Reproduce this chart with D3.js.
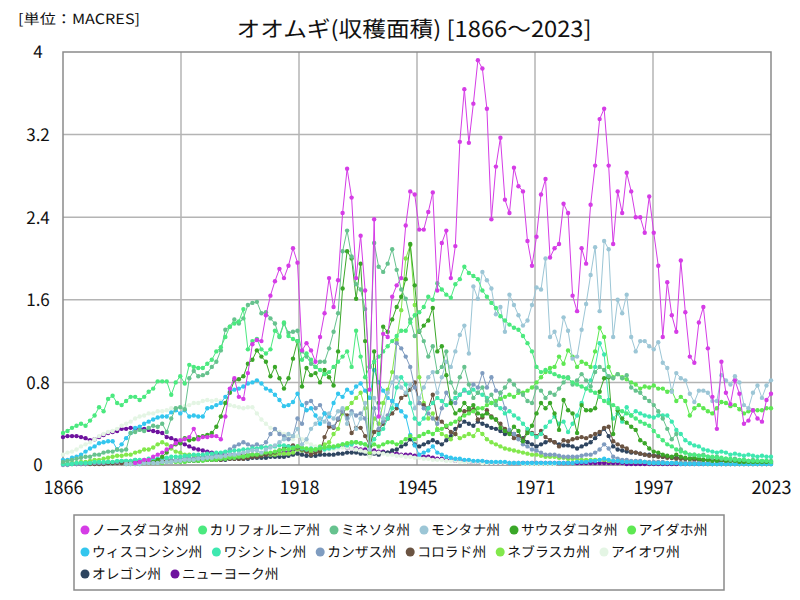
<!DOCTYPE html>
<html lang="ja"><head><meta charset="utf-8">
<script src="https://cdn.jsdelivr.net/npm/d3@7/dist/d3.min.js"></script>
<style>body{margin:0;background:#fff} text{font-family:"Noto Sans CJK JP","Noto Sans",sans-serif;fill:#111;text-rendering:geometricPrecision} .gs{opacity:0.999}</style>
</head><body><svg id="c" width="800" height="600"></svg>
<script>
const startYear = 1866, endYear = 2023;
const xTickLabels = ["1866","1892","1918","1945","1971","1997","2023"];
const yTickValues = [0, 0.8, 1.6, 2.4, 3.2, 4];
const yTickLabels = ["0","0.8","1.6","2.4","3.2","4"];
const stateNames = ["ノースダコタ州","カリフォルニア州","ミネソタ州","モンタナ州","サウスダコタ州","アイダホ州","ウィスコンシン州","ワシントン州","カンザス州","コロラド州","ネブラスカ州","アイオワ州","オレゴン州","ニューヨーク州"];
const stateColors = ["#d53ce6","#4be97f","#66c28e","#9cc6d6","#3aa728","#5ee852","#33c6ee","#3ee8b0","#7f9cc0","#6b5442","#82e84c","#e4f5e4","#2e4560","#6e129e"];
const startYears = [1882,1866,1866,1880,1885,1880,1866,1866,1866,1870,1866,1866,1866,1866];

const northDakota = [0.02,0.03,0.05,0.05,0.08,0.10,0.12,0.15,0.18,0.21,
0.24,0.25,0.27,0.35,0.25,0.27,0.27,0.28,0.28,0.25,
0.47,0.74,0.84,0.66,0.64,0.89,1.17,1.21,1.20,1.45,
1.64,1.78,1.90,1.81,1.93,2.10,1.96,1.11,1.18,1.11,
1.00,1.24,1.47,1.81,1.53,1.79,2.44,2.87,2.59,1.81,
2.22,1.69,0.73,2.38,0.47,1.27,1.24,1.63,1.74,1.81,
2.32,2.65,2.62,2.28,2.28,2.45,2.64,1.69,2.15,2.27,
1.81,2.12,3.13,3.64,3.12,3.50,3.92,3.84,3.45,2.38,
2.89,3.17,2.57,2.44,2.88,2.70,2.65,2.17,1.93,2.21,
2.62,2.77,2.01,2.10,2.14,2.53,2.44,1.64,1.49,2.10,
1.95,2.52,2.90,3.35,3.45,2.90,2.14,2.65,2.44,2.83,
2.65,2.40,2.40,2.25,2.60,2.25,1.93,1.24,1.77,1.45,
1.29,1.98,1.48,1.05,0.99,1.38,1.53,1.13,0.66,0.35,
1.00,0.70,0.59,0.82,0.69,0.40,0.43,0.53,0.45,0.42,0.63,0.69];

const california = [0.31,0.33,0.36,0.38,0.40,0.38,0.43,0.48,0.56,0.52,
0.64,0.67,0.60,0.58,0.62,0.66,0.66,0.63,0.66,0.71,
0.74,0.81,0.81,0.81,0.68,0.80,0.86,0.79,0.97,0.95,
0.94,0.94,0.98,1.02,1.10,1.14,1.24,1.34,1.37,1.39,
1.51,1.12,1.20,1.22,1.12,1.08,1.12,1.30,1.25,1.38,
1.25,1.22,1.20,1.02,1.08,1.02,0.95,0.92,0.88,0.90,
0.95,1.00,1.05,1.10,0.95,1.30,1.05,0.85,0.95,1.00,
1.05,1.10,1.15,1.20,1.25,1.30,1.30,1.38,1.45,1.48,
1.53,1.63,1.60,1.76,1.70,1.65,1.62,1.75,1.80,1.92,
1.86,1.83,1.80,1.69,1.63,1.57,1.52,1.44,1.40,1.36,
1.33,1.31,1.25,1.18,1.10,0.95,0.90,0.92,0.90,0.88,
0.86,0.85,0.84,0.80,0.78,0.76,0.74,0.72,0.70,0.66,
0.62,0.60,0.58,0.55,0.52,0.50,0.48,0.45,0.42,0.40,
0.38,0.33,0.28,0.24,0.20,0.18,0.15,0.13,0.12,0.10,
0.10,0.09,0.09,0.08,0.08,0.07,0.07,0.06,0.06,0.05,
0.05,0.05,0.04,0.04,0.04,0.04,0.04,0.03];

const minnesota = [0.03,0.04,0.05,0.06,0.07,0.08,0.08,0.10,0.10,0.12,
0.13,0.13,0.15,0.14,0.15,0.31,0.32,0.34,0.33,0.36,
0.38,0.37,0.40,0.32,0.45,0.55,0.56,0.54,0.84,0.91,
0.86,0.87,0.89,0.95,1.00,1.11,1.31,1.34,1.41,1.37,
1.42,1.55,1.57,1.58,1.47,1.48,1.42,1.37,1.24,1.37,
1.28,1.29,1.30,1.10,1.05,0.98,0.95,1.00,1.00,1.13,
1.29,1.47,2.07,2.27,2.02,1.75,1.70,1.51,0.95,2.15,
1.92,1.87,1.95,2.09,1.89,1.70,1.61,1.41,1.25,1.30,
1.20,1.05,1.15,0.90,0.95,1.10,0.80,0.70,0.85,0.95,
0.78,0.65,0.70,0.75,0.62,0.68,0.58,0.70,0.75,0.82,
0.78,0.72,0.68,0.62,0.60,0.75,0.72,0.65,0.70,0.68,
0.74,0.80,0.85,0.78,0.82,0.88,0.82,0.76,0.90,0.95,
0.92,0.86,0.84,0.88,0.84,0.87,0.75,0.72,0.70,0.65,
0.62,0.58,0.52,0.45,0.35,0.25,0.30,0.15,0.12,0.10,
0.10,0.09,0.10,0.08,0.07,0.08,0.06,0.06,0.05,0.06,
0.05,0.05,0.04,0.05,0.04,0.04,0.04,0.04];

const montana = [0.01,0.01,0.01,0.01,0.02,0.02,
0.02,0.02,0.03,0.03,0.03,0.04,0.04,0.05,0.05,0.05,0.06,0.06,0.07,0.07,
0.08,0.08,0.09,0.10,0.10,0.11,0.12,0.13,0.14,0.14,
0.12,0.15,0.17,0.19,0.22,0.25,0.30,0.28,0.35,0.20,
0.25,0.35,0.40,0.45,0.42,0.50,0.45,0.52,0.55,0.40,
0.50,0.35,0.45,0.60,0.15,0.65,0.55,0.45,0.70,0.80,
0.85,0.75,0.70,0.78,0.55,0.65,0.75,0.85,0.90,0.70,
0.85,1.00,0.95,1.10,1.26,1.35,1.08,1.73,1.61,1.87,
1.79,1.71,1.46,1.53,1.29,1.65,1.55,1.45,1.35,1.40,
1.55,1.72,1.70,2.00,1.24,1.29,1.16,1.43,1.30,1.03,
1.05,1.31,1.56,1.84,2.11,1.49,2.17,2.09,1.24,1.60,
1.47,1.65,1.24,1.10,1.20,1.20,1.15,1.12,1.19,0.99,
0.94,0.71,0.89,0.84,0.82,0.69,0.61,0.72,0.72,0.70,
0.62,0.62,0.87,0.82,0.78,0.86,0.80,0.58,0.55,0.70,
0.77,0.65,0.77,0.82];

const southDakota = [0.02,0.03,0.05,0.08,0.12,0.18,0.20,0.21,0.26,0.24,
0.25,0.27,0.28,0.29,0.31,0.37,0.47,0.60,0.70,0.82,
0.83,0.86,0.98,1.02,1.11,1.05,1.00,0.86,0.95,0.84,
0.74,0.84,1.03,1.20,0.76,0.94,0.87,0.89,0.80,0.92,
0.85,0.77,1.10,1.71,2.07,2.00,1.61,1.95,1.20,0.18,
1.10,0.60,1.34,1.29,1.41,1.53,1.63,1.80,2.14,1.74,
1.29,1.35,1.40,1.52,1.10,1.15,0.87,0.60,0.50,0.53,
0.60,0.55,0.58,0.50,0.48,0.50,0.46,0.44,0.36,0.33,
0.30,0.37,0.33,0.23,0.31,0.38,0.50,0.60,0.55,0.60,
0.50,0.34,0.63,0.53,0.50,0.31,0.58,0.53,0.53,0.55,
0.71,0.84,0.85,0.30,0.53,0.45,0.41,0.37,0.34,0.24,
0.21,0.16,0.13,0.12,0.10,0.09,0.08,0.10,0.08,0.07,
0.06,0.07,0.06,0.05,0.05,0.04,0.04,0.05,0.04,0.04,
0.04,0.03,0.03,0.03,0.03,0.03,0.03,0.03,0.03];

const idaho = [0.01,0.01,0.01,0.01,0.02,0.02,0.02,0.02,0.02,0.03,0.03,0.03,0.03,0.03,0.04,0.04,0.04,0.04,0.05,0.05,
0.05,0.06,0.06,0.07,0.07,0.08,0.08,0.09,0.10,0.10,
0.11,0.12,0.12,0.13,0.14,0.15,0.15,0.16,0.18,0.17,
0.16,0.15,0.15,0.16,0.17,0.18,0.18,0.19,0.20,0.21,
0.22,0.22,0.21,0.20,0.15,0.20,0.18,0.20,0.22,0.22,
0.20,0.22,0.25,0.28,0.25,0.28,0.30,0.32,0.30,0.34,
0.35,0.38,0.40,0.42,0.45,0.48,0.50,0.52,0.55,0.55,
0.58,0.60,0.62,0.64,0.66,0.68,0.66,0.70,0.70,0.72,
0.75,0.80,0.85,0.90,0.94,0.95,1.05,0.98,1.11,1.05,
0.95,1.00,0.98,0.95,1.10,1.33,1.24,0.95,0.85,0.88,
0.85,0.83,0.80,0.78,0.74,0.76,0.75,0.77,0.74,0.74,
0.71,0.72,0.62,0.66,0.62,0.48,0.55,0.58,0.55,0.52,
0.50,0.55,0.61,0.60,0.57,0.58,0.54,0.50,0.52,0.53,
0.53,0.53,0.55,0.55];

const wisconsin = [0.05,0.05,0.07,0.08,0.10,0.13,0.16,0.18,0.21,0.22,
0.23,0.23,0.15,0.20,0.26,0.31,0.36,0.37,0.40,0.42,
0.44,0.46,0.47,0.47,0.51,0.53,0.50,0.53,0.47,0.48,
0.47,0.47,0.55,0.56,0.58,0.60,0.66,0.71,0.73,0.74,
0.76,0.79,0.80,0.82,0.79,0.74,0.72,0.68,0.63,0.57,
0.58,0.61,0.69,0.58,0.53,0.55,0.48,0.40,0.50,0.47,
0.60,0.69,0.66,0.73,0.70,0.76,0.79,0.72,0.65,0.92,
0.80,0.72,0.65,0.62,0.58,0.52,0.47,0.29,0.19,0.10,
0.12,0.14,0.18,0.12,0.10,0.08,0.07,0.06,0.06,0.05,
0.05,0.04,0.04,0.04,0.03,0.03,0.03,0.03,0.03,0.02,
0.02,0.02,0.02,0.02,0.02,0.02,0.02,0.02,0.02,0.02,
0.02,0.02,0.02,0.02,0.03,0.03,0.03,0.04,0.04,0.05,
0.06,0.05,0.04,0.04,0.03,0.03,0.03,0.03,0.03,0.03,
0.02,0.02,0.02,0.02,0.02,0.02,0.02,0.01,0.01,0.01,
0.01,0.01,0.01,0.01,0.01,0.01,0.01,0.01,0.01,0.01,
0.01,0.01,0.01,0.01,0.01,0.01,0.01,0.01];

const washington = [0.01,0.01,0.01,0.02,0.02,0.02,0.02,0.03,0.03,0.03,
0.03,0.03,0.04,0.04,0.04,0.04,0.05,0.05,0.05,0.06,
0.06,0.06,0.07,0.07,0.08,0.08,0.08,0.09,0.09,0.10,
0.10,0.10,0.11,0.11,0.12,0.12,0.13,0.13,0.14,0.14,
0.15,0.15,0.16,0.16,0.17,0.17,0.18,0.18,0.19,0.19,
0.18,0.17,0.18,0.16,0.15,0.16,0.15,0.17,0.15,0.16,
0.17,0.18,0.20,0.19,0.20,0.22,0.21,0.20,0.18,0.25,
0.30,0.35,0.45,0.55,0.75,0.85,0.78,0.60,0.45,0.40,
0.45,0.55,0.60,0.65,0.62,0.58,0.60,0.65,0.68,0.73,
0.70,0.73,0.70,0.68,0.65,0.60,0.58,0.55,0.50,0.52,
0.48,0.45,0.40,0.35,0.30,0.27,0.30,0.37,0.42,0.47,
0.40,0.42,0.32,0.40,0.48,0.60,0.74,0.82,0.95,1.18,
1.07,0.63,0.45,0.50,0.42,0.56,0.48,0.52,0.50,0.48,
0.47,0.46,0.48,0.48,0.48,0.42,0.34,0.30,0.24,0.21,
0.19,0.18,0.15,0.14,0.13,0.12,0.13,0.12,0.10,0.11,
0.10,0.09,0.10,0.09,0.08,0.09,0.08,0.08];

const kansas = [0.00,0.00,0.01,0.01,0.01,0.01,0.02,0.02,0.02,0.02,
0.03,0.03,0.03,0.04,0.04,0.04,0.05,0.04,0.04,0.05,
0.05,0.05,0.06,0.06,0.05,0.05,0.06,0.07,0.07,0.06,
0.07,0.08,0.08,0.09,0.10,0.10,0.12,0.15,0.18,0.20,
0.22,0.20,0.18,0.20,0.18,0.22,0.30,0.35,0.30,0.28,
0.25,0.28,0.45,0.40,0.60,0.62,0.55,0.58,0.50,0.40,
0.37,0.45,0.52,0.45,0.52,0.48,0.50,0.45,0.18,0.55,
0.35,0.42,0.48,0.62,1.18,1.13,1.05,0.95,0.75,0.60,
0.55,0.50,0.45,0.40,0.55,0.70,0.62,0.60,0.68,0.72,
0.70,0.78,0.75,0.89,0.75,0.85,0.72,0.70,0.55,0.34,
0.30,0.25,0.20,0.18,0.15,0.14,0.12,0.10,0.10,0.10,
0.09,0.08,0.08,0.08,0.08,0.09,0.10,0.10,0.12,0.15,
0.20,0.16,0.08,0.06,0.05,0.05,0.04,0.04,0.04,0.03,
0.03,0.03,0.03,0.03,0.02,0.02,0.02,0.02,0.02,0.02,
0.02,0.02,0.02,0.02,0.01,0.01,0.01,0.01,0.01,0.01,
0.01,0.01,0.01,0.01,0.01,0.01,0.01,0.01];

const colorado = [0.01,0.01,0.01,0.01,0.01,0.01,0.02,0.02,0.02,0.02,
0.02,0.02,0.03,0.03,0.03,0.03,0.03,0.03,0.04,0.04,
0.04,0.04,0.04,0.04,0.05,0.05,0.05,0.05,0.05,0.05,
0.05,0.05,0.06,0.06,0.06,0.06,0.06,0.07,0.08,0.08,
0.09,0.10,0.11,0.12,0.14,0.16,0.18,0.19,0.17,0.15,
0.13,0.10,0.12,0.13,0.27,0.37,0.36,0.44,0.52,0.48,
0.31,0.36,0.36,0.28,0.19,0.32,0.34,0.40,0.45,0.50,
0.55,0.65,0.68,0.73,0.80,0.60,0.58,0.55,0.68,0.45,
0.42,0.37,0.32,0.30,0.44,0.52,0.53,0.54,0.44,0.46,
0.53,0.47,0.44,0.40,0.35,0.31,0.26,0.28,0.25,0.33,
0.31,0.28,0.33,0.27,0.24,0.22,0.18,0.24,0.23,0.25,
0.26,0.27,0.26,0.28,0.30,0.32,0.36,0.37,0.23,0.20,
0.18,0.16,0.13,0.12,0.11,0.10,0.09,0.09,0.08,0.08,
0.07,0.07,0.06,0.06,0.06,0.06,0.05,0.05,0.05,0.05,
0.05,0.05,0.04,0.04,0.04,0.04,0.04,0.04,0.04,0.04,
0.03,0.03,0.03,0.03];

const nebraska = [0.01,0.01,0.02,0.02,0.03,0.03,0.04,0.05,0.05,0.06,
0.07,0.08,0.09,0.09,0.10,0.10,0.12,0.13,0.15,0.15,
0.17,0.20,0.22,0.20,0.16,0.13,0.12,0.10,0.10,0.09,
0.08,0.08,0.07,0.07,0.07,0.08,0.08,0.08,0.09,0.09,
0.09,0.10,0.10,0.10,0.10,0.11,0.10,0.10,0.11,0.11,
0.11,0.12,0.15,0.14,0.14,0.13,0.15,0.18,0.20,0.22,
0.30,0.35,0.50,0.55,0.60,0.65,0.70,0.55,0.12,0.45,
0.40,0.60,0.73,0.90,1.21,1.50,2.00,2.13,1.55,0.85,
0.60,0.45,0.50,0.35,0.30,0.28,0.25,0.30,0.26,0.28,
0.30,0.28,0.34,0.30,0.25,0.22,0.20,0.18,0.16,0.15,
0.14,0.13,0.12,0.11,0.10,0.10,0.09,0.08,0.08,0.08,
0.07,0.07,0.06,0.06,0.06,0.05,0.05,0.05,0.05,0.05,
0.05,0.04,0.04,0.04,0.04,0.03,0.03,0.03,0.03,0.03,
0.02,0.02,0.02,0.02,0.02,0.02,0.02,0.02,0.02,0.02,
0.02,0.02,0.02,0.01,0.01,0.01,0.01,0.01,0.01,0.01,
0.01,0.01,0.01,0.01,0.01,0.01,0.01,0.01];

const iowa = [0.10,0.12,0.13,0.15,0.18,0.20,0.22,0.25,0.28,0.30,
0.32,0.33,0.35,0.38,0.40,0.42,0.45,0.47,0.48,0.50,
0.50,0.52,0.52,0.53,0.55,0.55,0.56,0.57,0.58,0.60,
0.60,0.62,0.63,0.62,0.63,0.62,0.60,0.58,0.57,0.56,
0.55,0.56,0.56,0.50,0.44,0.40,0.36,0.34,0.32,0.30,
0.28,0.25,0.28,0.25,0.22,0.20,0.18,0.17,0.16,0.15,
0.15,0.16,0.17,0.17,0.16,0.15,0.14,0.13,0.08,0.12,
0.12,0.11,0.10,0.10,0.09,0.09,0.08,0.08,0.07,0.07,
0.06,0.06,0.05,0.05,0.05,0.04,0.04,0.04,0.03,0.03,
0.03,0.03,0.03,0.02,0.02,0.02,0.02,0.02,0.02,0.02,
0.02,0.02,0.01,0.01,0.01,0.01,0.01,0.01,0.01,0.01];

const oregon = [0.01,0.01,0.01,0.01,0.02,0.02,0.02,0.02,0.02,0.02,
0.02,0.02,0.03,0.03,0.03,0.03,0.03,0.03,0.03,0.03,
0.03,0.03,0.04,0.04,0.04,0.04,0.04,0.04,0.04,0.04,
0.04,0.05,0.05,0.05,0.05,0.05,0.05,0.06,0.06,0.06,
0.06,0.06,0.07,0.07,0.07,0.07,0.08,0.08,0.08,0.08,
0.09,0.10,0.11,0.10,0.09,0.09,0.09,0.10,0.10,0.10,
0.10,0.11,0.11,0.12,0.12,0.12,0.11,0.11,0.10,0.11,
0.10,0.12,0.12,0.14,0.15,0.18,0.20,0.25,0.20,0.18,
0.20,0.22,0.24,0.22,0.20,0.24,0.28,0.35,0.38,0.42,
0.40,0.38,0.42,0.40,0.38,0.36,0.35,0.33,0.30,0.32,
0.30,0.28,0.26,0.22,0.20,0.18,0.20,0.22,0.24,0.22,
0.20,0.19,0.19,0.18,0.16,0.18,0.20,0.22,0.26,0.30,
0.35,0.28,0.18,0.15,0.14,0.13,0.12,0.12,0.11,0.10,
0.10,0.09,0.09,0.08,0.08,0.07,0.07,0.07,0.06,0.06,
0.06,0.05,0.05,0.05,0.05,0.04,0.04,0.04,0.04,0.04,
0.04,0.03,0.03,0.03,0.03,0.03,0.03,0.03];

const newYork = [0.27,0.28,0.28,0.28,0.27,0.26,0.24,0.25,0.27,0.29,
0.31,0.32,0.33,0.35,0.35,0.36,0.35,0.35,0.35,0.34,
0.33,0.32,0.31,0.27,0.26,0.24,0.22,0.20,0.18,0.16,
0.15,0.14,0.13,0.12,0.11,0.11,0.10,0.10,0.10,0.10,
0.10,0.10,0.10,0.10,0.10,0.11,0.11,0.11,0.11,0.12,
0.13,0.14,0.15,0.14,0.13,0.13,0.14,0.15,0.16,0.17,
0.17,0.18,0.18,0.17,0.16,0.16,0.15,0.15,0.14,0.14,
0.13,0.13,0.12,0.12,0.11,0.10,0.10,0.10,0.09,0.09,
0.08,0.08,0.07,0.06,0.06,0.05,0.05,0.04,0.04,0.04,
0.03,0.03,0.03,0.03,0.03,0.02,0.02,0.02,0.02,0.02,
0.02,0.02,0.02,0.02,0.02,0.02,0.02,0.02,0.02,0.02,
0.02,0.02,0.02,0.02,0.02,0.02,0.02,0.02,0.02,0.02,
0.02,0.02,0.02,0.02,0.02,0.01,0.01,0.01,0.01,0.01,
0.01,0.01,0.01,0.01,0.01,0.01,0.01,0.01,0.01,0.01,
0.01,0.01,0.01,0.01,0.01,0.01,0.01,0.01,0.01,0.01,
0.01,0.01,0.01,0.01,0.01,0.01,0.01,0.01];

const seriesValues = [northDakota, california, minnesota, montana, southDakota, idaho, wisconsin, washington, kansas, colorado, nebraska, iowa, oregon, newYork];

const series = stateNames.map((name, i) => ({
  name, color: stateColors[i],
  points: seriesValues[i].map((v, j) => ({year: startYears[i] + j, value: v})).filter(p => p.year <= endYear)
}));

const svg = d3.select("#c");
const L = 63, R = 771, T = 52, B = 465;
const x = d3.scaleLinear().domain([startYear, endYear]).range([L, R]);
const y = d3.scaleLinear().domain([0, 4]).range([B, T]);
const xTickValues = xTickLabels.map((_, i) => startYear + i * (endYear - startYear) / (xTickLabels.length - 1));

// title texts
svg.append("text").attr("x", 18).attr("y", 24).attr("font-size", 14)
  .attr("textLength", 122).attr("lengthAdjust", "spacingAndGlyphs").text("[単位：MACRES]");
svg.append("text").attr("x", 414).attr("y", 37).attr("font-size", 22).attr("text-anchor", "middle")
  .attr("textLength", 355).attr("lengthAdjust", "spacingAndGlyphs").text("オオムギ(収穫面積) [1866～2023]");

// grid
const g = svg.append("g");
g.selectAll("line.h").data(yTickValues.slice(1, -1)).join("line")
  .attr("x1", L).attr("x2", R).attr("y1", d => y(d)).attr("y2", d => y(d))
  .attr("stroke", "#b4b4b4").attr("stroke-width", 1.5);
g.selectAll("line.v").data(xTickValues.slice(1, -1)).join("line")
  .attr("y1", T).attr("y2", B).attr("x1", d => x(d)).attr("x2", d => x(d))
  .attr("stroke", "#b4b4b4").attr("stroke-width", 1.5);
svg.append("rect").attr("x", L).attr("y", T).attr("width", R - L).attr("height", B - T)
  .attr("fill", "none").attr("stroke", "#8a8a8a").attr("stroke-width", 1.5);

// axes
const xAxis = d3.axisBottom(x).tickValues(xTickValues).tickFormat((d, i) => xTickLabels[i]).tickSize(0).tickPadding(0);
const xa = svg.append("g").attr("transform", `translate(0,${B})`).call(xAxis);
xa.select(".domain").remove();
xa.selectAll("text").attr("font-size", 18).attr("dy", null).attr("y", 29).attr("fill", "#111")
  .style("font-family", '"Noto Sans CJK JP",sans-serif');
const yAxis = d3.axisLeft(y).tickValues(yTickValues).tickFormat((d, i) => yTickLabels[i]).tickSize(0);
const ya = svg.append("g").attr("transform", `translate(${L},0)`).call(yAxis);
ya.select(".domain").remove();
ya.selectAll("text").attr("font-size", 17).attr("x", -25).attr("text-anchor", "middle").attr("dy", "0.35em").attr("fill", "#111")
  .style("font-family", '"Noto Sans CJK JP",sans-serif');

// series
const line = d3.line().x(d => x(d.year)).y(d => y(d.value));
const sg = svg.append("g");
series.slice().reverse().forEach(s => {
  const gg = sg.append("g");
  gg.append("path").attr("d", line(s.points)).attr("fill", "none").attr("stroke", s.color).attr("stroke-width", 1);
  gg.selectAll("circle").data(s.points).join("circle")
    .attr("cx", d => x(d.year)).attr("cy", d => y(d.value)).attr("r", 2.2).attr("fill", s.color);
});

// legend
const lg = svg.append("g");
lg.append("rect").attr("x", 74).attr("y", 515).attr("width", 650).attr("height", 75)
  .attr("fill", "#fff").attr("stroke", "#8a8a8a").attr("stroke-width", 1.5);
const lt = lg.append("g").attr("class", "gs");
let lx = 85, ly = 530;
const rowH = 22, maxRight = 722, charW = 13.8;
series.forEach(s => {
  const w = s.name.length * charW;
  if (lx + 7 + w > maxRight) { lx = 85; ly += rowH; }
  lg.append("circle").attr("cx", lx).attr("cy", ly).attr("r", 4.5).attr("fill", s.color);
  lt.append("text").attr("font-size", 14).attr("x", lx + 7).attr("y", ly).attr("dy", "0.36em")
    .attr("textLength", w).attr("lengthAdjust", "spacingAndGlyphs").text(s.name);
  lx += 7 + w + 14;
});
</script></body></html>
